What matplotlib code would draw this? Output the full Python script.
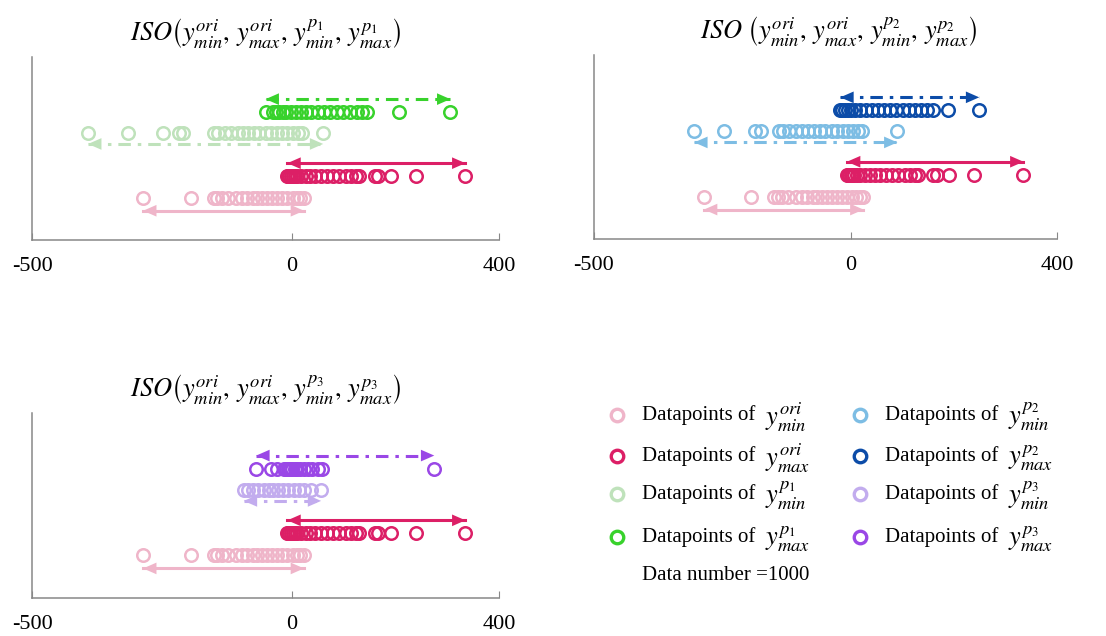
import numpy as np
import matplotlib
matplotlib.use('Agg')
import matplotlib.pyplot as plt
from matplotlib.lines import Line2D

plt.rcParams['font.family'] = ['Liberation Serif', 'DejaVu Serif']
plt.rcParams['mathtext.fontset'] = 'stix'
plt.rcParams['lines.scale_dashes'] = False

# datapoints (value axis from -500 to 400)
ori_min = [-286, -194, -150, -143, -134, -122, -108, -96, -85, -74, -66, -56, -47,
           -38, -28, -18, -8, 2, 10, 17, 24]
ori_max = [-8, -6, -4, -1, 2, 6, 11, 18, 27, 36, 46, 57, 68, 80, 92, 104, 114, 124,
           130, 160, 166, 191, 239, 335]
p1_min = [-392, -316, -247, -216, -209, -150, -141, -128, -116, -104, -94, -83, -72,
          -62, -50, -40, -28, -18, -8, 2, 12, 20, 61]
p1_max = [-50, -36, -30, -24, -17, -10, -2, 8, 18, 28, 38, 50, 62, 75, 88, 100,
          112, 126, 136, 146, 208, 306]
p2_min = [-305, -247, -187, -176, -141, -132, -120, -108, -96, -84, -72, -61, -50,
          -38, -27, -16, -6, 4, 13, 21, 90]
p2_max = [-21, -17, -12, -6, 0, 8, 18, 28, 40, 52, 64, 76, 88, 100, 112, 124, 136,
          148, 160, 188, 249]
p3_min = [-92, -84, -75, -64, -54, -44, -35, -26, -16, -6, 4, 14, 24, 37, 57]
p3_max = [-68, -40, -28, -15, -11, -7, -3, 1, 6, 11, 17, 24, 31, 40, 50, 59, 275]

c_ori_min = '#efb5c9'
c_ori_max = '#dc1f66'
c_min = ['#bfe2bb', '#7dbde4', '#c2acee']
c_max = ['#38d22c', '#0c4ca8', '#9a47e6']

pert_min = [p1_min, p2_min, p3_min]
pert_max = [p1_max, p2_max, p3_max]
subs = ['1', '2', '3']

fig = plt.figure(figsize=(11.06, 6.36), dpi=100)
boxes = [[0.029, 0.6226, 0.4223, 0.2877],
         [0.537, 0.6242, 0.4186, 0.2893],
         [0.029, 0.0597, 0.4223, 0.2909]]

mk = dict(marker='o', ls='none', mfc='none', ms=9, mew=1.8)


def row(ax, vals, y, ya, color, dashed):
    ax.plot(vals, [y] * len(vals), mec=color, **mk)
    lo, hi = np.min(vals), np.max(vals)
    if dashed:
        ax.plot([lo, hi], [ya, ya], color=color, lw=2.2, dashes=(9, 5, 2.5, 5))
    else:
        ax.plot([lo, hi], [ya, ya], color=color, lw=2.2)
    ax.annotate('', xy=(hi, ya), xytext=(lo, ya),
                arrowprops=dict(arrowstyle='<|-|>,head_length=0.8,head_width=0.35',
                                lw=0, color=color, shrinkA=0, shrinkB=0,
                                mutation_scale=12))


for i in range(3):
    ax = fig.add_axes(boxes[i])
    row(ax, ori_min, 0.23, 0.16, c_ori_min, False)
    row(ax, ori_max, 0.35, 0.42, c_ori_max, False)
    row(ax, pert_min[i], 0.585, 0.525, c_min[i], True)
    row(ax, pert_max[i], 0.70, 0.77, c_max[i], True)
    ax.set_xlim(-500, 400)
    ax.set_ylim(0, 1)
    ax.set_xticks([-500, 0, 400])
    ax.set_xticklabels(['-500', '0', '400'], fontsize=16)
    ax.set_yticks([])
    ax.tick_params(axis='x', direction='in', length=5, pad=12, color='#888888')
    for s in ['top', 'right']:
        ax.spines[s].set_visible(False)
    for s in ['left', 'bottom']:
        ax.spines[s].set_color('#888888')
        ax.spines[s].set_linewidth(1.1)
    sp = r'\ ' if i == 1 else ''
    p = 'p_' + subs[i]
    title = (r'$ISO' + sp + r'\left(y_{min}^{ori},\, y_{max}^{ori},\, y_{min}^{' + p +
             r'},\, y_{max}^{' + p + r'}\right)$')
    ax.set_title(title, fontsize=19, pad=12, x=0.53 if i == 1 else 0.5)

# legend drawn by hand
lax = fig.add_axes([0, 0, 1, 1])
lax.set_xlim(0, 1106)
lax.set_ylim(636, 0)
lax.axis('off')
labels = [
    (c_ori_min, r'$y_{min}^{ori}$'), (c_ori_max, r'$y_{max}^{ori}$'),
    (c_min[0], r'$y_{min}^{p_1}$'), (c_max[0], r'$y_{max}^{p_1}$'),
    (c_min[1], r'$y_{min}^{p_2}$'), (c_max[1], r'$y_{max}^{p_2}$'),
    (c_min[2], r'$y_{min}^{p_3}$'), (c_max[2], r'$y_{max}^{p_3}$'),
]
rows_y = [415, 456, 494, 537]
for k, (col, lab) in enumerate(labels):
    cx = 617 if k < 4 else 860
    ry = rows_y[k % 4]
    lax.add_line(Line2D([cx], [ry], marker='o', mfc='none', mec=col, ms=9, mew=2.4))
    lax.text(cx + 25, ry, 'Datapoints of', fontsize=15, va='center', ha='left')
    lax.text(cx + 148, ry + 2, lab, fontsize=19, va='center', ha='left')
lax.text(642, 576, 'Data number =1000', fontsize=15, va='center', ha='left')

fig.savefig('out.png', dpi=100)
